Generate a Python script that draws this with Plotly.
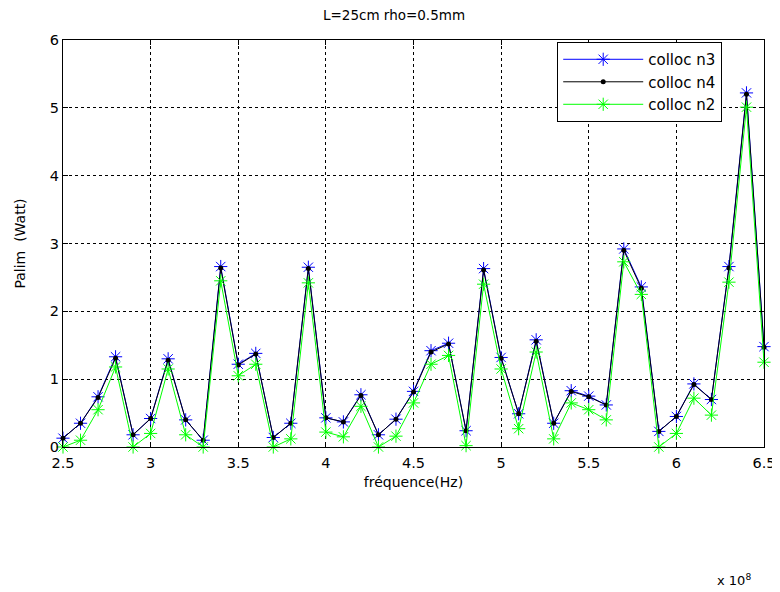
import plotly.graph_objects as go

freq = [2.5, 2.6, 2.7, 2.8, 2.9, 3.0, 3.1, 3.2, 3.3, 3.4, 3.5, 3.6, 3.7, 3.8, 3.9, 4.0,
        4.1, 4.2, 4.3, 4.4, 4.5, 4.6, 4.7, 4.8, 4.9, 5.0, 5.1, 5.2, 5.3, 5.4, 5.5, 5.6,
        5.7, 5.8, 5.9, 6.0, 6.1, 6.2, 6.3, 6.4, 6.5]

colloc_n3 = [0.13, 0.35, 0.74, 1.33, 0.18, 0.42, 1.30, 0.40, 0.10, 2.66, 1.22, 1.38, 0.14,
             0.35, 2.65, 0.43, 0.37, 0.77, 0.18, 0.41, 0.82, 1.42, 1.53, 0.24, 2.63, 1.32,
             0.49, 1.58, 0.35, 0.83, 0.75, 0.62, 2.92, 2.36, 0.23, 0.45, 0.93, 0.70, 2.66,
             5.22, 1.48]

colloc_n4 = [0.13, 0.35, 0.73, 1.31, 0.18, 0.42, 1.28, 0.40, 0.10, 2.64, 1.21, 1.37, 0.14,
             0.35, 2.63, 0.43, 0.37, 0.76, 0.18, 0.41, 0.81, 1.40, 1.52, 0.24, 2.61, 1.31,
             0.49, 1.56, 0.35, 0.82, 0.74, 0.62, 2.90, 2.34, 0.23, 0.45, 0.92, 0.70, 2.64,
             5.20, 1.47]

colloc_n2 = [0.0, 0.10, 0.55, 1.18, 0.0, 0.20, 1.15, 0.18, 0.0, 2.45, 1.05, 1.22, 0.0,
             0.12, 2.42, 0.22, 0.15, 0.60, 0.0, 0.16, 0.65, 1.22, 1.35, 0.02, 2.40, 1.15,
             0.27, 1.40, 0.12, 0.65, 0.55, 0.40, 2.73, 2.25, 0.0, 0.20, 0.72, 0.47, 2.43,
             5.01, 1.25]

x_ticks = [2.5, 3, 3.5, 4, 4.5, 5, 5.5, 6, 6.5]
x_tick_labels = ["2.5", "3", "3.5", "4", "4.5", "5", "5.5", "6", "6.5"]
y_ticks = [0, 1, 2, 3, 4, 5, 6]

FONT = "DejaVu Sans, Verdana, sans-serif"

fig = go.Figure()
fig.add_trace(go.Scatter(
    x=freq, y=colloc_n3, mode="lines+markers", name="colloc n3",
    line=dict(color="#0000ff", width=1),
    marker=dict(symbol="asterisk-open", size=11, color="#0000ff",
                line=dict(color="#0000ff", width=1)),
    cliponaxis=False,
))
fig.add_trace(go.Scatter(
    x=freq, y=colloc_n4, mode="lines+markers", name="colloc n4",
    line=dict(color="#000000", width=1),
    marker=dict(symbol="circle", size=5, color="#000000"),
    cliponaxis=False,
))
fig.add_trace(go.Scatter(
    x=freq, y=colloc_n2, mode="lines+markers", name="colloc n2",
    line=dict(color="#00ff00", width=1),
    marker=dict(symbol="asterisk-open", size=11, color="#00ff00",
                line=dict(color="#00ff00", width=1)),
    cliponaxis=False,
))

axis_common = dict(
    showline=True, linecolor="black", linewidth=1, mirror="ticks",
    ticks="inside", ticklen=5, tickcolor="black",
    showgrid=True, gridcolor="black", griddash="3px,3px", gridwidth=1,
    zeroline=False, automargin=False,
    tickfont=dict(family=FONT, size=14.5, color="black"),
)

# page has an 8px body margin, so the figure is 8px smaller on each side
fig.update_layout(
    width=772, height=584,
    margin=dict(l=55, r=16, t=32, b=145),
    paper_bgcolor="white", plot_bgcolor="white",
    title=dict(text="L=25cm rho=0.5mm", x=0.5, xanchor="center", y=0.987, yanchor="middle",
               font=dict(family=FONT, size=13.5, color="black"), automargin=False),
    xaxis=dict(range=[2.5, 6.5], tickvals=x_ticks, ticktext=x_tick_labels,
               ticklabelstandoff=3,
               title=dict(text="fréquence(Hz)", font=dict(family=FONT, size=14, color="black"),
                          standoff=6),
               **axis_common),
    yaxis=dict(range=[0, 6], tickvals=y_ticks,
               title=dict(text="Palim  (Watt)", font=dict(family=FONT, size=14, color="black"),
                          standoff=20),
               **axis_common),
    legend=dict(x=0.705, y=0.995, xanchor="left", yanchor="top",
                bgcolor="white", bordercolor="black", borderwidth=1,
                font=dict(family=FONT, size=15, color="black"),
                tracegroupgap=0, itemwidth=80),
    showlegend=True,
)

fig.add_annotation(
    text="x 10<sup>8</sup>", xref="paper", yref="paper", x=0.985, y=-0.327,
    xanchor="right", yanchor="middle", showarrow=False,
    font=dict(family=FONT, size=13, color="black"),
)

fig.write_html("out.html")
